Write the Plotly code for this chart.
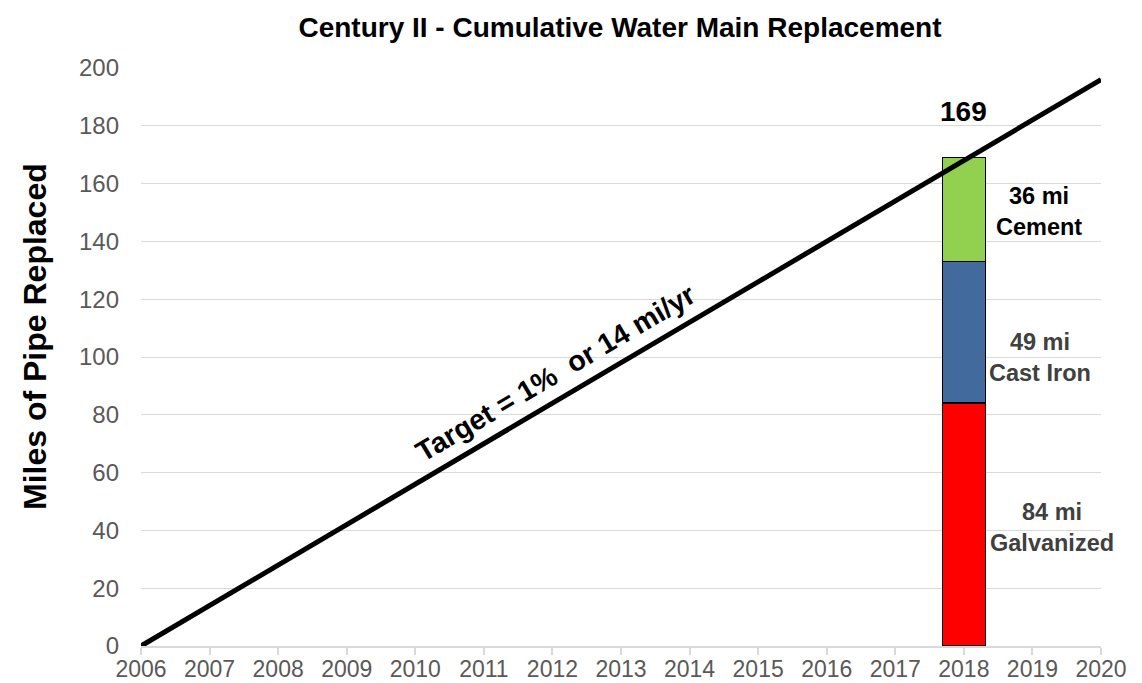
import plotly.graph_objects as go

# ---- data ----
years = [2006, 2007, 2008, 2009, 2010, 2011, 2012, 2013, 2014, 2015, 2016, 2017, 2018, 2019, 2020]
target_miles = [0, 14, 28, 42, 56, 70, 84, 98, 112, 126, 140, 154, 168, 182, 196]
bar_year = 2018
segment_names = ["Galvanized", "Cast Iron", "Cement"]
segment_values = [84, 49, 36]
segment_colors = ["#FF0000", "#426A9C", "#92D050"]
total_label = "169"
y_ticks = [0, 20, 40, 60, 80, 100, 120, 140, 160, 180, 200]

FONT = "Liberation Sans, Arial, sans-serif"
W, H = 1134, 675  # page body has an 8px margin

fig = go.Figure()

for name, val, col in zip(segment_names, segment_values, segment_colors):
    fig.add_trace(go.Bar(
        x=[bar_year], y=[val], name=name, width=0.63,
        marker=dict(color=col, line=dict(color="#000000", width=1.5)),
        hoverinfo="skip",
    ))

fig.add_trace(go.Scatter(
    x=years, y=target_miles, mode="lines",
    line=dict(color="#000000", width=5), name="Target",
))

# ---- annotations ----
anns = []
anns.append(dict(x=bar_year, y=sum(segment_values), text="<b>" + total_label + "</b>",
                 showarrow=False, yanchor="bottom", yshift=29,
                 font=dict(size=28, color="#000000", family=FONT)))

label_pos = [(2019.28, 41, "#404040"), (2019.11, 100, "#404040"), (2019.09, 150.2, "#000000")]
for (lx, ly, lc), name, val in zip(label_pos, segment_names, segment_values):
    anns.append(dict(x=lx, y=ly, text="<b>%d mi<br>%s</b>" % (val, name), showarrow=False,
                     xanchor="center", yanchor="middle",
                     font=dict(size=23.5, color=lc, family=FONT)))

anns.append(dict(x=2012.04, y=94.5, text="<b>Target = 1%\u00a0 or 14 mi/yr</b>", showarrow=False,
                 textangle=-30.6, xanchor="center", yanchor="middle",
                 font=dict(size=28.5, color="#000000", family=FONT)))

anns.append(dict(xref="paper", yref="paper", x=(35 - 141) / 960, y=0.5 + 20 / 578,
                 text="<b>Miles of Pipe Replaced</b>", showarrow=False, textangle=-90,
                 xanchor="center", yanchor="middle",
                 font=dict(size=32, color="#000000", family=FONT)))

fig.update_layout(
    width=W, height=H,
    barmode="stack",
    showlegend=False,
    plot_bgcolor="#FFFFFF", paper_bgcolor="#FFFFFF",
    margin=dict(l=133, r=41, t=60, b=37, autoexpand=False),
    title=dict(text="<b>Century II - Cumulative Water Main Replacement</b>",
               x=612 / W, xanchor="center", y=1 - 19 / H, yanchor="middle",
               font=dict(size=28, color="#000000", family=FONT)),
    font=dict(family=FONT),
    annotations=anns,
)

fig.update_xaxes(
    range=[2006, 2020], tickvals=years, ticktext=[str(y) for y in years],
    showgrid=False, zeroline=False, showline=True, linecolor="#D9D9D9", linewidth=1.5,
    ticks="outside", ticklen=7, tickcolor="#D9D9D9", tickwidth=1.5, ticklabelstandoff=-5,
    tickfont=dict(size=23, color="#595959", family=FONT), automargin=False,
)
fig.update_yaxes(
    range=[0, 200], tickvals=y_ticks,
    showgrid=True, gridcolor="#D9D9D9", gridwidth=1.3, zeroline=False, showline=False,
    ticks="", ticklabelstandoff=21,
    tickfont=dict(size=24, color="#595959", family=FONT), automargin=False,
)

fig.write_html("out.html")
